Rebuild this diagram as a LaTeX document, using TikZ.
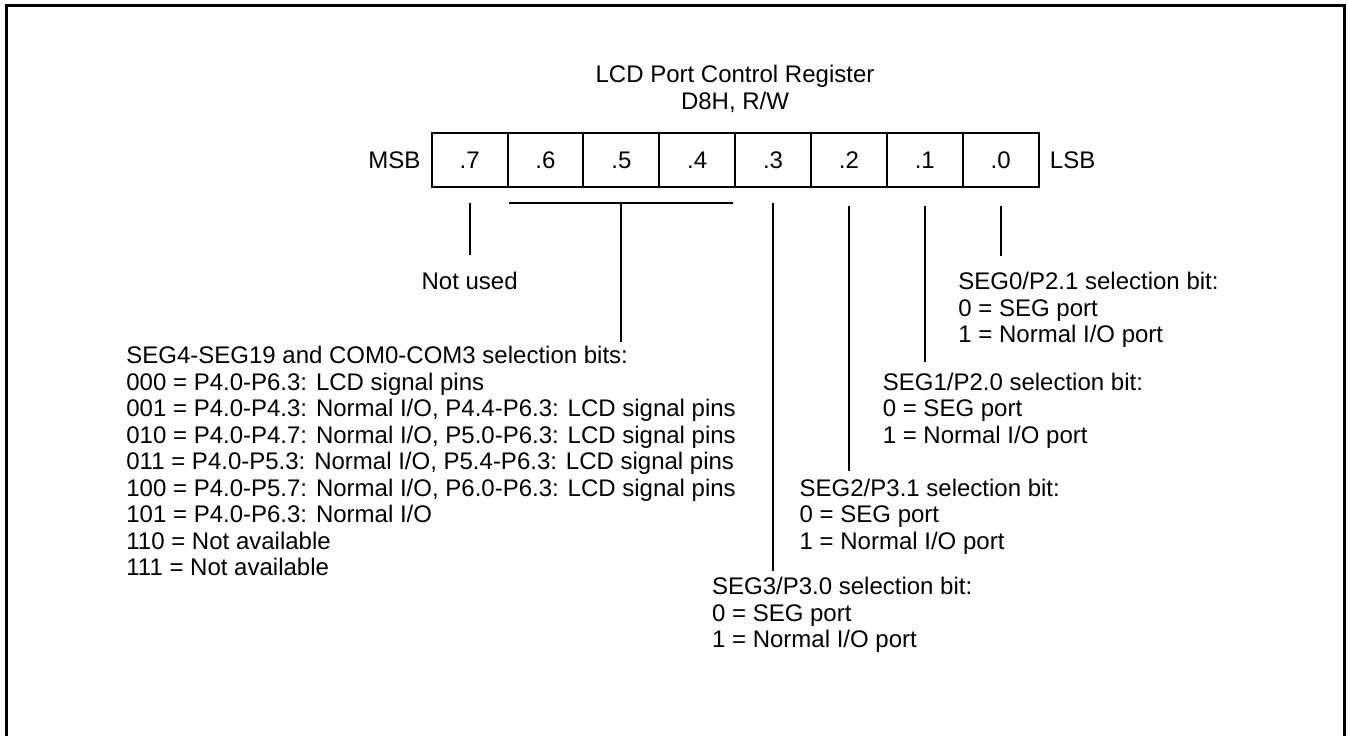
\documentclass[tikz,border=0pt]{standalone}
\usepackage{fontspec}
\setmainfont{Liberation Sans}
\usetikzlibrary{positioning,calc}

\begin{document}
\begin{tikzpicture}[
	x=0.5pt, y=-0.5pt,
	font=\fontsize{12}{13.25}\selectfont,
	bitcell/.style={draw, line width=1pt, minimum width=37.93pt, minimum height=26.7pt, inner sep=0pt},
	txt/.style={inner sep=0pt, align=left},
	wire/.style={line width=0.9pt},
	frame/.style={line width=1.5pt}
]
\useasboundingbox (0,0) rectangle (1348,735);
\draw[frame] (6,745) -- (6,5) -- (1344,5) -- (1344,745);

\node[txt, align=center, anchor=north, font=\fontsize{12}{13.5}\selectfont] (title) at (735,64.7) {LCD Port Control Register\\D8H, R/W};

% register cells, bit 7 first
\foreach \b [count=\i] in {7,6,5,4,3,2,1,0}
	\node[bitcell] (b\b) at ({431.7+75.86*(\i-0.5)},160) {.\b};
\node[txt, left=5pt of b7] (msb) {MSB};
\node[txt, right=5pt of b0] (lsb) {LSB};

\node[txt, anchor=north] (nu) at (469.6,272) {Not used};
\node[txt, anchor=north west] (s4) at (126,345.8) {SEG4-SEG19 and COM0-COM3 selection bits:\\000 = P4.0-P6.3: LCD signal pins\\001 = P4.0-P4.3: Normal I/O, P4.4-P6.3: LCD signal pins\\010 = P4.0-P4.7: Normal I/O, P5.0-P6.3: LCD signal pins\\011 = P4.0-P5.3: Normal I/O, P5.4-P6.3: LCD signal pins\\100 = P4.0-P5.7: Normal I/O, P6.0-P6.3: LCD signal pins\\101 = P4.0-P6.3: Normal I/O\\110 = Not available\\111 = Not available};
\node[txt, anchor=north west] (s3) at (711.7,577) {SEG3/P3.0 selection bit:\\0 = SEG port\\1 = Normal I/O port};
\node[txt, anchor=north west] (s2) at (799.3,478.3) {SEG2/P3.1 selection bit:\\0 = SEG port\\1 = Normal I/O port};
\node[txt, anchor=north west] (s1) at (882.4,372.3) {SEG1/P2.0 selection bit:\\0 = SEG port\\1 = Normal I/O port};
\node[txt, anchor=north west] (s0) at (958,271.8) {SEG0/P2.1 selection bit:\\0 = SEG port\\1 = Normal I/O port};

\draw[wire] ($(b7.south)+(0,15)$) -- ($(b7.south |- nu.north)+(0,-17)$);
\draw[wire] ($(b6.south west)+(2,15)$) -- ($(b4.south east)+(-3,15)$);
\draw[wire] ($(b5.south)+(0,15)$) -- ($(b5.south |- s4.north)+(0,-4)$);
\draw[wire] ($(b3.south)+(0,15)$) -- ($(b3.south |- s3.north)+(0,-6)$);
\draw[wire] ($(b2.south)+(0,18)$) -- ($(b2.south |- s2.north)+(0,-7)$);
\draw[wire] ($(b1.south)+(0,18)$) -- ($(b1.south |- s1.north)+(0,-10)$);
\draw[wire] ($(b0.south)+(0,18)$) -- ($(b0.south |- s0.north)+(0,-16)$);
\end{tikzpicture}
\end{document}
